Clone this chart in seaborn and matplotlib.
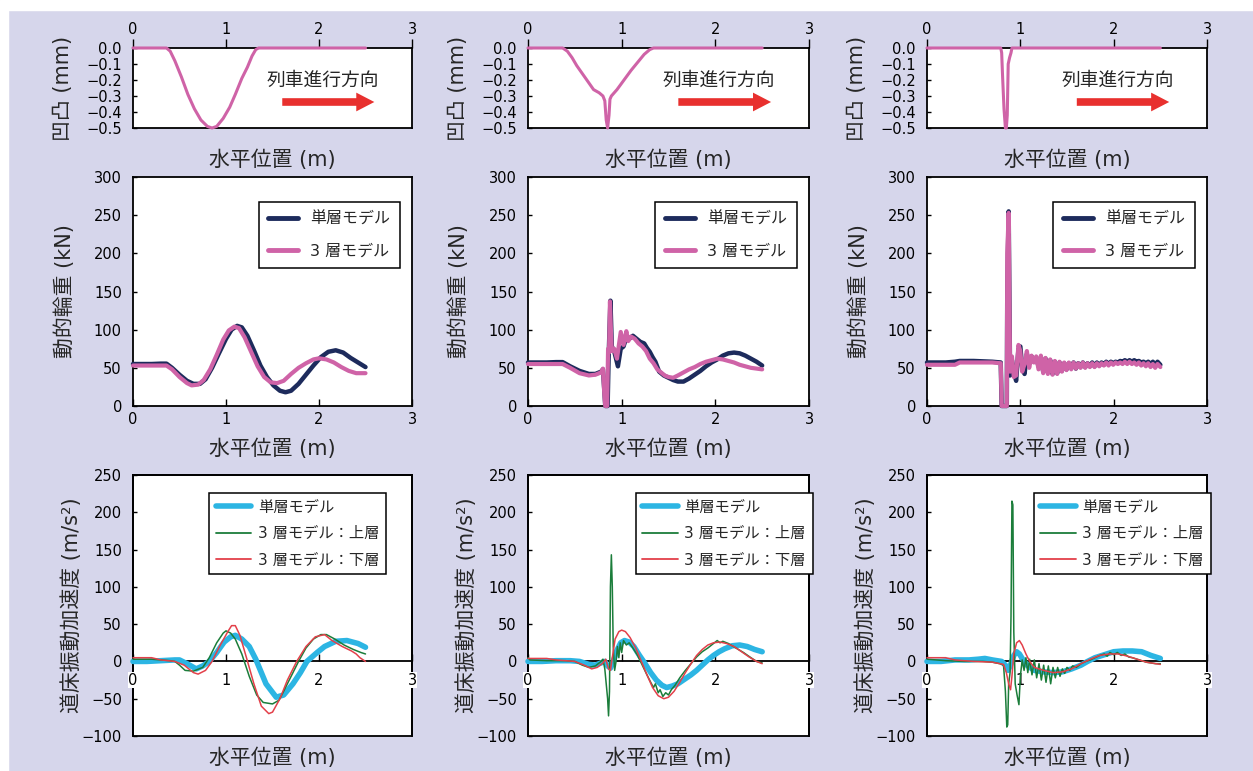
import matplotlib
matplotlib.use("Agg")
import matplotlib.pyplot as plt
from matplotlib.patches import Rectangle, FancyArrowPatch
from matplotlib.lines import Line2D
import seaborn as sns

# ---------------- data ----------------
x_ticks = [0, 1, 2, 3]
x_tick_labels = ["0", "1", "2", "3"]
bump_ticks = [0.0, -0.1, -0.2, -0.3, -0.4, -0.5]
bump_tick_labels = ["0.0", "\u22120.1", "\u22120.2", "\u22120.3", "\u22120.4", "\u22120.5"]
load_ticks = [0, 50, 100, 150, 200, 250, 300]
load_tick_labels = ["0", "50", "100", "150", "200", "250", "300"]
acc_ticks = [-100, -50, 0, 50, 100, 150, 200, 250]
acc_tick_labels = ["\u2212100", "\u221250", "0", "50", "100", "150", "200", "250"]

# top row: rail irregularity (mm)
bump1_x = [0, 0.36, 0.40, 0.45, 0.52, 0.59, 0.66, 0.73, 0.80, 0.85, 0.90, 0.97, 1.04, 1.10, 1.17, 1.23, 1.28, 1.32, 1.35, 2.5]
bump1_y = [0, 0, -0.02, -0.08, -0.18, -0.29, -0.38, -0.45, -0.49, -0.50, -0.49, -0.44, -0.37, -0.29, -0.19, -0.12, -0.05, -0.01, 0, 0]
bump2_x = [0, 0.37, 0.42, 0.47, 0.52, 0.58, 0.64, 0.70, 0.76, 0.80, 0.82, 0.835, 0.85, 0.865, 0.875, 0.89, 0.95, 1.00, 1.05, 1.10, 1.17, 1.24, 1.30, 1.34, 2.5]
bump2_y = [0, 0, -0.02, -0.06, -0.11, -0.16, -0.21, -0.26, -0.28, -0.30, -0.33, -0.45, -0.50, -0.42, -0.32, -0.30, -0.26, -0.22, -0.18, -0.14, -0.09, -0.04, -0.01, 0, 0]
bump3_x = [0, 0.79, 0.80, 0.81, 0.825, 0.84, 0.85, 0.86, 0.87, 0.885, 0.90, 0.91, 2.5]
bump3_y = [0, 0, -0.03, -0.18, -0.38, -0.50, -0.50, -0.42, -0.10, -0.06, -0.03, 0, 0]

# middle row: dynamic wheel load (kN)
load1_x_single = [0, 0.1, 0.2, 0.3, 0.36, 0.42, 0.5, 0.58, 0.65, 0.72, 0.78, 0.85, 0.92, 1.0, 1.06, 1.12, 1.17, 1.23, 1.30, 1.37, 1.44, 1.51, 1.58, 1.64, 1.70, 1.78, 1.86, 1.94, 2.02, 2.10, 2.18, 2.26, 2.34, 2.42, 2.5]
load1_y_single = [55, 55, 55, 55.5, 55.5, 50, 41, 33, 29, 29, 35, 50, 68, 88, 100, 105, 103, 92, 73, 53, 38, 27, 20, 18, 20, 29, 41, 53, 64, 71, 73, 70, 63, 57, 51]
load1_x_three = [0, 0.1, 0.2, 0.3, 0.36, 0.42, 0.5, 0.58, 0.63, 0.70, 0.76, 0.83, 0.90, 0.97, 1.03, 1.09, 1.14, 1.20, 1.27, 1.34, 1.41, 1.48, 1.55, 1.62, 1.70, 1.78, 1.86, 1.94, 2.0, 2.08, 2.16, 2.24, 2.32, 2.40, 2.5]
load1_y_three = [53, 53, 53, 53, 53, 48, 38, 30, 27, 28, 34, 48, 67, 87, 99, 104, 102, 90, 71, 52, 38, 31, 30, 33, 42, 50, 56, 61, 62.5, 61, 57, 51, 46, 43, 43]

load2_x_single = [0, 0.1, 0.2, 0.3, 0.37, 0.45, 0.55, 0.65, 0.72, 0.78, 0.80, 0.815, 0.825, 0.85, 0.86, 0.87, 0.88, 0.895, 0.92, 0.96, 0.99, 1.02, 1.05, 1.08, 1.12, 1.16, 1.20, 1.24, 1.27, 1.30, 1.33, 1.36, 1.40, 1.45, 1.50, 1.55, 1.60, 1.66, 1.72, 1.78, 1.84, 1.90, 1.96, 2.02, 2.08, 2.14, 2.20, 2.26, 2.32, 2.38, 2.44, 2.5]
load2_y_single = [57, 57, 57, 57.5, 57.5, 52, 46, 42, 42, 45, 48, 20, 0, 0, 60, 100, 138, 78, 72, 52, 75, 78, 90, 88, 92, 88, 84, 82, 76, 71, 64, 58, 45, 40, 37, 34, 32, 32, 36, 41, 46, 52, 57, 61, 66, 69, 70, 69, 66, 62, 58, 53]
load2_x_three = [0, 0.1, 0.2, 0.3, 0.37, 0.45, 0.55, 0.65, 0.72, 0.78, 0.80, 0.815, 0.825, 0.845, 0.855, 0.865, 0.875, 0.885, 0.895, 0.92, 0.95, 0.99, 1.02, 1.05, 1.07, 1.10, 1.14, 1.18, 1.22, 1.26, 1.30, 1.34, 1.38, 1.42, 1.46, 1.50, 1.55, 1.60, 1.66, 1.72, 1.78, 1.84, 1.90, 1.96, 2.02, 2.08, 2.14, 2.20, 2.26, 2.32, 2.38, 2.44, 2.5]
load2_y_three = [55, 55, 55, 55, 55, 50, 43, 40, 41, 44, 49, 15, 0, 0, 75, 70, 137, 100, 72, 75, 62, 97, 80, 98, 85, 91, 88, 82, 78, 72, 62, 56, 48, 44, 40, 38, 37, 40, 44, 48, 51, 55, 58, 60, 62, 61, 59, 57, 54, 52, 50, 49, 48]

load3_x = [0, 0.1, 0.2, 0.3, 0.35, 0.4, 0.5, 0.6, 0.7, 0.79, 0.80, 0.855, 0.86, 0.875, 0.89, 0.91, 0.93, 0.955, 0.98, 1.0, 1.02, 1.045, 1.07, 1.095, 1.12, 1.145, 1.17, 1.195, 1.22, 1.245, 1.27, 1.295, 1.32, 1.345, 1.37, 1.395, 1.42, 1.445, 1.47, 1.495, 1.52, 1.545, 1.57, 1.595, 1.62, 1.645, 1.67, 1.695, 1.72, 1.745, 1.77, 1.795, 1.82, 1.845, 1.87, 1.895, 1.92, 1.945, 1.97, 1.995, 2.02, 2.045, 2.07, 2.095, 2.12, 2.145, 2.17, 2.195, 2.22, 2.245, 2.27, 2.295, 2.32, 2.345, 2.37, 2.395, 2.42, 2.445, 2.47, 2.5]
load3_y_single = [57, 57, 57, 58, 59, 59, 59, 58.5, 58, 57, 0, 0, 150, 255, 40, 60, 45, 33, 75, 78, 50, 42, 68, 55, 65, 60, 63, 52, 64, 45, 62, 44, 60, 42, 58, 43, 57, 46, 56, 48, 56, 50, 57, 49, 56, 51, 57, 51, 56, 52, 57, 52, 57, 53, 57, 54, 58, 55, 58, 56, 58, 57, 59, 58, 60, 58, 60, 58, 60, 58, 59, 57, 58, 56, 58, 55, 58, 54, 58, 54]
load3_y_three = [54, 54, 54, 54, 57, 57, 57, 57, 57, 56, 0, 0, 200, 253, 45, 65, 38, 40, 80, 72, 45, 55, 72, 50, 66, 57, 65, 48, 66, 43, 63, 42, 61, 41, 59, 42, 58, 45, 57, 47, 57, 48, 57, 49, 56, 50, 57, 50, 56, 51, 56, 51, 56, 52, 56, 53, 57, 53, 57, 54, 57, 55, 57, 55, 58, 55, 58, 55, 57, 54, 57, 53, 56, 52, 56, 51, 55, 50, 55, 51]

# bottom row: ballast acceleration (m/s2)
acc1_x_single = [0, 0.15, 0.3, 0.45, 0.5, 0.58, 0.68, 0.75, 0.82, 0.9, 0.98, 1.05, 1.10, 1.17, 1.25, 1.32, 1.43, 1.54, 1.62, 1.72, 1.80, 1.87, 1.98, 2.06, 2.18, 2.30, 2.42, 2.5]
acc1_y_single = [0, 0, 1, 2, 2, -3, -10, -6, 0, 12, 26, 33, 35, 30, 20, 3, -30, -48, -45, -30, -15, 0, 12, 20, 27, 28, 24, 19]
acc1_x_upper = [0, 0.2, 0.4, 0.45, 0.5, 0.56, 0.65, 0.75, 0.82, 0.9, 0.97, 1.0, 1.05, 1.1, 1.17, 1.25, 1.33, 1.40, 1.5, 1.57, 1.62, 1.70, 1.78, 1.86, 1.94, 2.02, 2.08, 2.17, 2.27, 2.37, 2.45, 2.5]
acc1_y_upper = [3, 3, 1, 0, -5, -12, -13, -8, 5, 25, 38, 41, 38, 30, 10, -20, -45, -55, -57, -52, -40, -20, 0, 18, 30, 36, 36, 30, 22, 16, 12, 10]
acc1_x_lower = [0, 0.2, 0.3, 0.45, 0.55, 0.65, 0.7, 0.78, 0.85, 0.93, 1.02, 1.06, 1.1, 1.15, 1.22, 1.3, 1.38, 1.46, 1.5, 1.58, 1.66, 1.76, 1.86, 1.96, 2.06, 2.14, 2.25, 2.35, 2.4, 2.44, 2.5]
acc1_y_lower = [5, 5, 2, 0, -5, -15, -17, -12, 0, 20, 40, 48, 48, 35, 5, -30, -60, -70, -68, -50, -25, 0, 20, 33, 36, 28, 20, 14, 10, 5, 0]

acc2_x_single = [0, 0.15, 0.3, 0.45, 0.55, 0.65, 0.72, 0.78, 0.82, 0.85, 0.88, 0.91, 0.95, 0.99, 1.03, 1.08, 1.13, 1.19, 1.25, 1.31, 1.37, 1.43, 1.48, 1.54, 1.60, 1.67, 1.74, 1.80, 1.86, 1.92, 1.98, 2.04, 2.1, 2.18, 2.26, 2.34, 2.42, 2.5]
acc2_y_single = [0, 0, 1, 1, 0, -4, -5, -2, 0, -6, -9, 0, 15, 25, 28, 26, 20, 8, -3, -15, -25, -32, -35, -33, -30, -24, -18, -12, -5, 2, 8, 13, 17, 21, 22, 20, 16, 13]
acc2_x_upper = [0, 0.02, 0.2, 0.4, 0.5, 0.58, 0.65, 0.72, 0.78, 0.80, 0.82, 0.85, 0.86, 0.87, 0.88, 0.89, 0.90, 0.91, 0.925, 0.94, 0.955, 0.97, 0.985, 1.0, 1.02, 1.05, 1.08, 1.12, 1.17, 1.22, 1.27, 1.31, 1.34, 1.36, 1.39, 1.41, 1.44, 1.47, 1.50, 1.53, 1.57, 1.62, 1.68, 1.74, 1.80, 1.86, 1.92, 1.98, 2.02, 2.05, 2.08, 2.14, 2.22, 2.30, 2.38, 2.44, 2.5]
acc2_y_upper = [5, 2, 1, 1, 0, -5, -8, -6, 0, 3, -10, -50, -73, -40, 100, 143, 100, 20, -12, 0, 20, 5, 25, 12, 28, 22, 25, 18, 8, -5, -18, -28, -35, -30, -42, -38, -47, -42, -45, -38, -32, -22, -12, -3, 6, 13, 18, 24, 28, 25, 27, 24, 18, 12, 5, 0, -2]
acc2_x_lower = [0, 0.2, 0.3, 0.5, 0.6, 0.68, 0.74, 0.8, 0.83, 0.86, 0.88, 0.9, 0.93, 0.97, 1.0, 1.04, 1.09, 1.15, 1.21, 1.27, 1.33, 1.39, 1.45, 1.50, 1.56, 1.62, 1.68, 1.74, 1.80, 1.86, 1.92, 1.98, 2.05, 2.12, 2.2, 2.28, 2.36, 2.44, 2.5]
acc2_y_lower = [4, 4, 2, 0, -5, -10, -8, -2, 3, -10, -12, 5, 30, 40, 42, 40, 32, 18, 0, -18, -35, -46, -50, -48, -40, -28, -15, -3, 8, 16, 22, 25, 26, 24, 20, 13, 6, 0, -3]

acc3_x_single = [0, 0.15, 0.3, 0.45, 0.55, 0.62, 0.7, 0.8, 0.84, 0.87, 0.9, 0.93, 0.96, 0.99, 1.03, 1.08, 1.15, 1.25, 1.35, 1.45, 1.55, 1.65, 1.72, 1.8, 1.9, 2.0, 2.1, 2.2, 2.3, 2.4, 2.5]
acc3_y_single = [0, 0, 2, 2, 3, 4, 2, 0, -5, -12, -3, 8, 13, 10, 2, -6, -12, -14, -15, -14, -10, -5, 0, 5, 9, 13, 14, 14, 13, 8, 4]
acc3_x_upper = [0, 0.2, 0.4, 0.6, 0.7, 0.78, 0.82, 0.84, 0.855, 0.865, 0.875, 0.89, 0.90, 0.91, 0.92, 0.93, 0.945, 0.965, 0.985, 1.0, 1.02, 1.04, 1.06, 1.08, 1.10, 1.125, 1.15, 1.175, 1.20, 1.225, 1.25, 1.275, 1.30, 1.325, 1.35, 1.375, 1.40, 1.425, 1.45, 1.475, 1.50, 1.53, 1.56, 1.60, 1.65, 1.70, 1.75, 1.80, 1.85, 1.90, 1.93, 1.96, 2.0, 2.04, 2.08, 2.12, 2.16, 2.20, 2.25, 2.30, 2.35, 2.40, 2.45, 2.5]
acc3_y_upper = [3, 1, 0, 0, -1, -3, -5, -40, -88, -85, -30, -15, 60, 215, 210, 40, -30, -45, -58, -20, 2, -12, 5, -15, 3, -18, 2, -22, -3, -25, -5, -28, -6, -30, -8, -22, -8, -20, -10, -16, -8, -12, -6, -8, -3, 0, 2, 5, 8, 10, 7, 12, 9, 12, 8, 10, 6, 5, 3, 1, -1, -2, -3, -3]
acc3_x_lower = [0, 0.2, 0.3, 0.5, 0.7, 0.82, 0.85, 0.875, 0.895, 0.91, 0.93, 0.96, 0.99, 1.02, 1.06, 1.10, 1.15, 1.25, 1.35, 1.45, 1.55, 1.65, 1.75, 1.85, 1.95, 2.05, 2.15, 2.25, 2.35, 2.45, 2.5]
acc3_y_lower = [5, 5, 2, 0, -1, -4, -15, -30, -38, -20, 10, 25, 28, 22, 10, 0, -8, -12, -15, -14, -10, -3, 3, 8, 10, 10, 7, 3, -1, -3, -4]

legend_load = ["単層モデル", "3 層モデル"]
legend_acc = ["単層モデル", "3 層モデル：上層", "3 層モデル：下層"]
bump_label = "凹凸 (mm)"
load_label = "動的輪重 (kN)"
acc_label = "道床振動加速度 (m/s²)"
x_label = "水平位置 (m)"
direction_text = "列車進行方向"

# ---------------- style ----------------
sns.set_theme(style="ticks")
plt.rcParams["font.family"] = ["DejaVu Sans", "Noto Sans CJK JP"]
plt.rcParams["axes.unicode_minus"] = True

BG = "#d6d6eb"
NAVY = "#1d2b5c"
PINK = "#cf63a7"
CYAN = "#2cb5e3"
GREEN = "#1b7d3a"
RED = "#e3404a"
ARROW = "#e8302e"

W, H = 1253, 771
fig = plt.figure(figsize=(W / 100, H / 100), dpi=100, facecolor=BG)
fig.patches.append(Rectangle((0, 1 - 10 / H), 1, 10 / H, transform=fig.transFigure, color="white", zorder=0))
fig.patches.append(Rectangle((0, 0), 8 / W, 1, transform=fig.transFigure, color="white", zorder=0))


def pos(c, r):
    x0, x1 = c
    y0, y1 = r
    return [x0 / W, 1 - y1 / H, (x1 - x0) / W, (y1 - y0) / H]


cols = [(133, 412), (528, 809), (927, 1207)]
rows = [(48, 128), (177, 406), (475, 736)]

TICK_FS = 10.5
LABEL_FS = 15
LEG_FS_LOAD = 11.5
LEG_FS_ACC = 11


def line(ax, x, y, color, lw, z=3):
    sns.lineplot(x=x, y=y, ax=ax, color=color, linewidth=lw, sort=False,
                 estimator=None, legend=False, zorder=z, clip_on=False)


def common(ax, ylabel, ylab_x, xlab_y):
    ax.set_facecolor("white")
    for s in ax.spines.values():
        s.set_linewidth(1.3)
        s.set_color("black")
    ax.set_xlim(0, 3)
    ax.set_xticks(x_ticks)
    ax.set_xticklabels(x_tick_labels)
    ax.set_xlabel(x_label, fontsize=LABEL_FS)
    ax.xaxis.label.set_va("center")
    ax.xaxis.set_label_coords(0.5, xlab_y)
    ax.set_ylabel(ylabel, fontsize=LABEL_FS)
    ax.yaxis.label.set_va("center")
    ax.yaxis.set_label_coords(ylab_x, 0.5)
    ax.tick_params(axis="y", direction="in", length=3, width=1, labelsize=TICK_FS, pad=8, colors="black")


bumps = [(bump1_x, bump1_y), (bump2_x, bump2_y), (bump3_x, bump3_y)]
loads = [(load1_x_single, load1_y_single, load1_x_three, load1_y_three),
         (load2_x_single, load2_y_single, load2_x_three, load2_y_three),
         (load3_x, load3_y_single, load3_x, load3_y_three)]
accs = [(acc1_x_single, acc1_y_single, acc1_x_upper, acc1_y_upper, acc1_x_lower, acc1_y_lower),
        (acc2_x_single, acc2_y_single, acc2_x_upper, acc2_y_upper, acc2_x_lower, acc2_y_lower),
        (acc3_x_single, acc3_y_single, acc3_x_upper, acc3_y_upper, acc3_x_lower, acc3_y_lower)]
acc_leg_right = [0.907, 1.013, 1.013]

for i, c in enumerate(cols):
    # ---- top: irregularity ----
    ax = fig.add_axes(pos(c, rows[0]))
    common(ax, bump_label, -0.25, -0.275)
    ax.set_ylim(-0.5, 0)
    ax.set_yticks(bump_ticks)
    ax.set_yticklabels(bump_tick_labels)
    ax.xaxis.tick_top()
    ax.xaxis.set_label_position("bottom")
    ax.xaxis.set_label_coords(0.5, -0.275)
    ax.tick_params(axis="x", direction="out", length=6.5, width=1, labelsize=TICK_FS, pad=1.5,
                   top=True, bottom=False, colors="black")
    bx, by = bumps[i]
    line(ax, bx, by, PINK, 2.2)
    ax.text(0.68, 0.60, direction_text, transform=ax.transAxes, ha="center", va="center", fontsize=13.5)
    arr = FancyArrowPatch((0.535, 0.325), (0.865, 0.325), transform=ax.transAxes,
                          arrowstyle="simple,head_length=1.3,head_width=1.35,tail_width=0.55",
                          mutation_scale=10, color=ARROW, lw=0, shrinkA=0, shrinkB=0)
    ax.add_patch(arr)

    # ---- middle: wheel load ----
    ax = fig.add_axes(pos(c, rows[1]))
    common(ax, load_label, -0.245, -0.186)
    ax.set_ylim(0, 300)
    ax.set_yticks(load_ticks)
    ax.set_yticklabels(load_tick_labels)
    ax.tick_params(axis="x", direction="in", length=5, width=1, labelsize=TICK_FS, pad=4, colors="black")
    sx, sy, tx, ty = loads[i]
    line(ax, sx, sy, NAVY, 3.2)
    line(ax, tx, ty, PINK, 3.0, z=3.1)
    handles = [Line2D([], [], color=NAVY, lw=3.5), Line2D([], [], color=PINK, lw=3.5)]
    leg = ax.legend(handles, legend_load, loc="upper right", bbox_to_anchor=(0.957, 0.891),
                    borderaxespad=0, fontsize=LEG_FS_LOAD, frameon=True, fancybox=False,
                    edgecolor="black", framealpha=1, handlelength=1.9, labelspacing=1.05,
                    borderpad=0.6, handletextpad=0.75)
    leg.get_frame().set_linewidth(1.1)

    # ---- bottom: acceleration ----
    ax = fig.add_axes(pos(c, rows[2]))
    common(ax, acc_label, -0.22, -0.084)
    ax.set_ylim(-100, 250)
    ax.set_yticks(acc_ticks)
    ax.set_yticklabels(acc_tick_labels)
    ax.spines["bottom"].set_position(("data", 0))
    ax.spines["bottom"].set_zorder(2.5)
    ax.add_patch(Rectangle((0, 0), 1, 1, transform=ax.transAxes, fill=False,
                           lw=1.3, edgecolor="black", clip_on=False, zorder=2.5))
    ax.tick_params(axis="x", direction="in", length=5, width=1, labelsize=TICK_FS, pad=8, colors="black")
    ax.xaxis.set_zorder(2.6)
    for lab in ax.get_xticklabels():
        lab.set_bbox(dict(facecolor="white", edgecolor="none", pad=0.3))
    a = accs[i]
    line(ax, a[0], a[1], CYAN, 4.0, z=3)
    line(ax, a[2], a[3], GREEN, 1.1, z=3.1)
    line(ax, a[4], a[5], RED, 1.1, z=3.2)
    handles = [Line2D([], [], color=CYAN, lw=4.0), Line2D([], [], color=GREEN, lw=1.3),
               Line2D([], [], color=RED, lw=1.3)]
    leg = ax.legend(handles, legend_acc, loc="upper right", bbox_to_anchor=(acc_leg_right[i], 0.932),
                    borderaxespad=0, fontsize=LEG_FS_ACC, frameon=True, fancybox=False,
                    edgecolor="black", framealpha=1, handlelength=2.3, labelspacing=0.75,
                    borderpad=0.45, handletextpad=0.45)
    leg.get_frame().set_linewidth(1.1)

fig.savefig("out.png", dpi=100, facecolor=BG)
